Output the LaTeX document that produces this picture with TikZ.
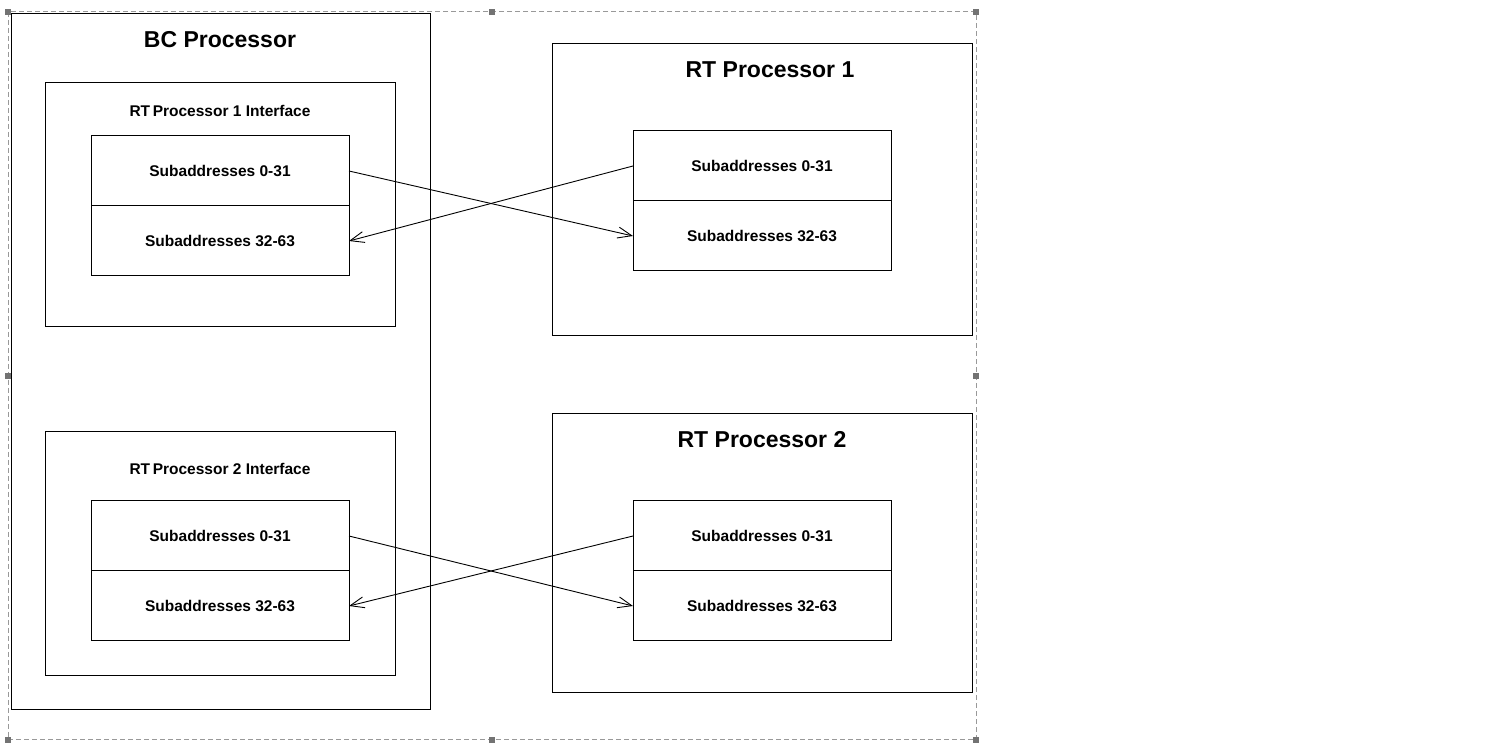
\documentclass[tikz,border=0pt]{standalone}
\usepackage{fontspec}
\setmainfont{Liberation Sans}
\usetikzlibrary{arrows.meta}
\tikzset{
  box/.style={draw=black, line width=0.5pt, inner sep=0pt, outer sep=0pt, anchor=north west},
  cell/.style={box, minimum width=129pt, minimum height=35pt,
    font=\fontsize{7.75}{9}\selectfont\bfseries},
  bigtitle/.style={font=\fontsize{11.5}{13}\selectfont\bfseries, inner sep=0pt},
  subtitle/.style={font=\fontsize{7.75}{9}\selectfont\bfseries, inner sep=0pt},
  link/.style={line width=0.45pt, -{Straight Barb[length=7pt,width=5.5pt,line width=0.45pt]}},
  frame/.style={draw=black!40, line width=0.5pt, dash pattern=on 2.5pt off 1.5pt},
  handle/.style={fill=black!55, draw=none, minimum size=3pt, inner sep=0pt},
}
\begin{document}
\begin{tikzpicture}[x=0.5pt,y=-0.5pt]
\useasboundingbox (0,0) rectangle (1500,747);
% selection frame
\draw[frame] (8,12) rectangle (976,740);
\foreach \p [count=\i] in {(8,12),(492,12),(976,12),(8,376),(976,376),(8,740),(492,740),(976,740)}
  \node[handle] (h\i) at \p {};
% BC processor
\node[box, minimum width=209.5pt, minimum height=348pt] (bc) at (11,14) {};
\node[bigtitle] (bct) at (220,40) {BC Processor};
% interface 1
\node[box, minimum width=175pt, minimum height=122pt] (if1) at (45,83) {};
\node[subtitle] (if1t) at (220,111) {RT\,Processor 1 Interface};
\node[cell] (a1) at (91,136) {Subaddresses 0-31};
\node[cell] (a2) at (91,206) {Subaddresses 32-63};
% interface 2
\node[box, minimum width=175pt, minimum height=122pt] (if2) at (45,432) {};
\node[subtitle] (if2t) at (220,469) {RT\,Processor 2 Interface};
\node[cell] (c1) at (91,501) {Subaddresses 0-31};
\node[cell] (c2) at (91,571) {Subaddresses 32-63};
% RT processor 1
\node[box, minimum width=210pt, minimum height=146pt] (rt1) at (552,44) {};
\node[bigtitle] (rt1t) at (770,70) {RT Processor 1};
\node[cell] (b1) at (633,131) {Subaddresses 0-31};
\node[cell] (b2) at (633,201) {Subaddresses 32-63};
% RT processor 2
\node[box, minimum width=210pt, minimum height=139.5pt] (rt2) at (552,414) {};
\node[bigtitle] (rt2t) at (762,440) {RT Processor 2};
\node[cell] (d1) at (633,501) {Subaddresses 0-31};
\node[cell] (d2) at (633,571) {Subaddresses 32-63};
% connectors
\draw[link] (a1.east) -- (b2.west);
\draw[link] (b1.west) -- (a2.east);
\draw[link] (c1.east) -- (d2.west);
\draw[link] (d1.west) -- (c2.east);
\end{tikzpicture}
\end{document}
